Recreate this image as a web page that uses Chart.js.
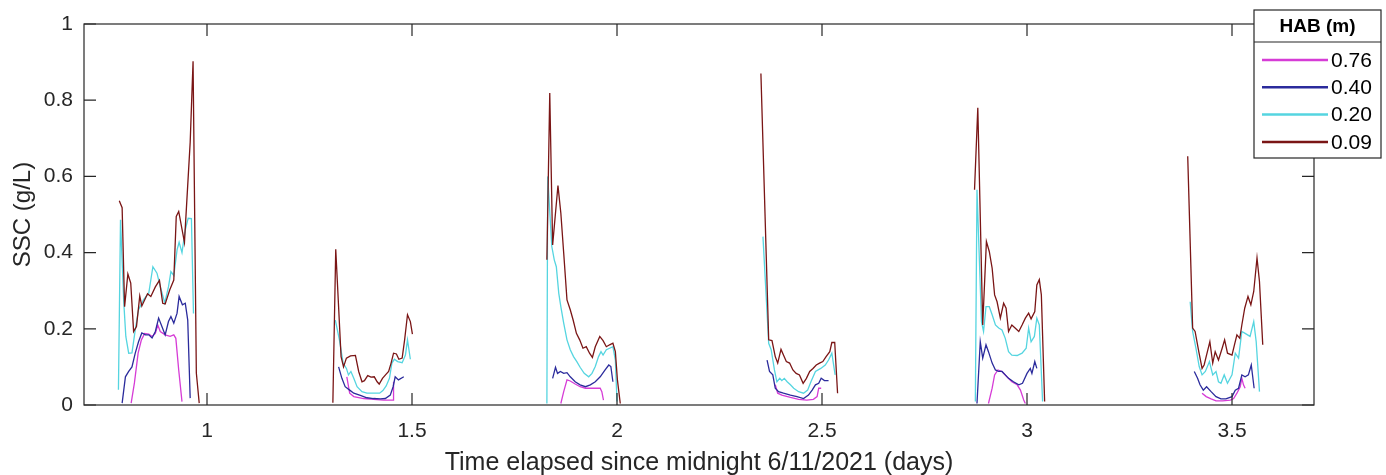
<!DOCTYPE html>
<html lang="en">
<head>
    <meta charset="UTF-8">
    <title>SSC by height above bed</title>
    <script src="https://cdn.jsdelivr.net/npm/chart.js"></script>
    <style>
        html, body { margin: 0; padding: 0; background: #fff; }
        .wrap { width: 1386px; height: 475px; }
    </style>
</head>
<body>
<div class="wrap"><canvas id="sscChart" width="1386" height="475"></canvas></div>
<script>
// legend order = plot order (0.09 ends up on top)
const habLabels = ['0.76', '0.40', '0.20', '0.09'];
const lineColors = ['#d63cd6', '#2b2b9c', '#55d5e0', '#7a1515'];
const xTicks = [1, 1.5, 2, 2.5, 3, 3.5];
const yTicks = [0, 0.2, 0.4, 0.6, 0.8, 1];

// one inner array per burst: time (days) and SSC (g/L)
const t076 = [
    [0.815,0.823,0.832,0.840,0.848,0.858,0.866,0.874,0.880,0.886,0.898,0.910,0.919,0.924,0.931,0.939],
    [1.341,1.348,1.358,1.382,1.406,1.431,1.454,1.455],
    [1.863,1.870,1.878,1.886,1.898,1.910,1.923,1.935,1.947,1.959,1.963,1.967],
    [2.386,2.392,2.402,2.423,2.443,2.463,2.479,2.488,2.492,2.498],
    [2.906,2.915,2.921,2.929,2.939,2.951,2.963,2.976,2.984,2.992,2.996],
    [3.427,3.437,3.449,3.461,3.477,3.496,3.504,3.512,3.520,3.524,3.528,3.532]
];
const ssc076 = [
    [0.005,0.058,0.136,0.171,0.188,0.186,0.18,0.188,0.21,0.193,0.184,0.18,0.184,0.175,0.092,0.009],
    [0.074,0.031,0.022,0.017,0.015,0.013,0.013,0.061],
    [0.004,0.035,0.066,0.063,0.055,0.048,0.044,0.044,0.044,0.044,0.035,0.013],
    [0.053,0.031,0.026,0.02,0.015,0.013,0.015,0.022,0.044,0.044],
    [0.004,0.044,0.079,0.092,0.088,0.074,0.061,0.053,0.039,0.013,0.004],
    [0.031,0.022,0.016,0.011,0.011,0.013,0.017,0.031,0.048,0.07,0.053,0.044]
];

const t040 = [
    [0.793,0.801,0.809,0.817,0.825,0.833,0.841,0.850,0.858,0.866,0.874,0.882,0.890,0.898,0.906,0.912,0.919,0.927,0.932,0.940,0.947,0.953,0.959],
    [1.321,1.329,1.337,1.348,1.358,1.374,1.390,1.406,1.423,1.435,1.447,1.454,1.459,1.467,1.480],
    [1.843,1.850,1.855,1.862,1.870,1.878,1.886,1.898,1.910,1.923,1.935,1.947,1.959,1.971,1.980,1.985,1.990],
    [2.366,2.372,2.380,2.386,2.394,2.406,2.423,2.439,2.455,2.467,2.476,2.484,2.492,2.498,2.506,2.516],
    [2.878,2.886,2.892,2.900,2.906,2.915,2.923,2.931,2.939,2.947,2.955,2.967,2.980,2.989,3.000,3.008,3.012,3.019,3.024],
    [3.408,3.416,3.422,3.430,3.438,3.449,3.461,3.473,3.485,3.500,3.508,3.516,3.524,3.532,3.540,3.547,3.554]
];
const ssc040 = [
    [0.005,0.074,0.088,0.1,0.136,0.166,0.189,0.184,0.184,0.176,0.193,0.228,0.206,0.184,0.219,0.232,0.215,0.241,0.285,0.263,0.267,0.223,0.018],
    [0.10,0.07,0.048,0.039,0.031,0.025,0.019,0.017,0.016,0.017,0.026,0.048,0.074,0.066,0.074],
    [0.07,0.099,0.083,0.088,0.083,0.085,0.074,0.061,0.053,0.048,0.053,0.061,0.074,0.092,0.105,0.101,0.061],
    [0.118,0.088,0.079,0.044,0.035,0.031,0.026,0.022,0.017,0.026,0.039,0.053,0.057,0.07,0.064,0.064],
    [0.004,0.166,0.123,0.158,0.14,0.11,0.092,0.088,0.088,0.079,0.07,0.061,0.053,0.057,0.083,0.096,0.083,0.114,0.096],
    [0.088,0.07,0.053,0.039,0.048,0.035,0.022,0.016,0.016,0.022,0.039,0.044,0.079,0.074,0.079,0.105,0.044]
];

const t020 = [
    [0.784,0.789,0.797,0.802,0.809,0.817,0.825,0.833,0.845,0.858,0.868,0.878,0.886,0.897,0.906,0.912,0.919,0.927,0.932,0.939,0.947,0.954,0.962,0.967],
    [1.313,1.323,1.332,1.340,1.345,1.351,1.358,1.366,1.378,1.390,1.406,1.421,1.429,1.437,1.445,1.451,1.457,1.465,1.476,1.484,1.489,1.496],
    [1.829,1.831,1.841,1.847,1.852,1.858,1.863,1.870,1.878,1.886,1.894,1.902,1.910,1.920,1.931,1.939,1.947,1.955,1.961,1.966,1.974,1.982,1.990,1.996,2.000],
    [2.356,2.370,2.376,2.384,2.390,2.397,2.402,2.408,2.415,2.423,2.431,2.443,2.455,2.465,2.473,2.484,2.497,2.508,2.516,2.524,2.532],
    [2.874,2.878,2.889,2.894,2.900,2.908,2.915,2.923,2.931,2.939,2.947,2.955,2.963,2.976,2.988,2.998,3.004,3.010,3.018,3.024,3.030,3.038],
    [3.398,3.404,3.412,3.420,3.427,3.435,3.445,3.453,3.461,3.467,3.473,3.481,3.489,3.500,3.508,3.516,3.524,3.532,3.544,3.553,3.559,3.567]
];
const ssc020 = [
    [0.04,0.486,0.27,0.18,0.136,0.137,0.197,0.25,0.276,0.294,0.363,0.346,0.311,0.268,0.31,0.35,0.34,0.407,0.427,0.40,0.46,0.49,0.489,0.24],
    [0.223,0.171,0.11,0.096,0.079,0.088,0.07,0.048,0.035,0.031,0.031,0.031,0.038,0.05,0.07,0.11,0.12,0.114,0.111,0.131,0.171,0.12],
    [0.004,0.6,0.416,0.381,0.363,0.293,0.258,0.215,0.171,0.145,0.127,0.114,0.099,0.083,0.074,0.083,0.101,0.127,0.14,0.131,0.145,0.149,0.153,0.118,0.009],
    [0.442,0.162,0.145,0.092,0.061,0.07,0.064,0.07,0.061,0.053,0.044,0.035,0.031,0.039,0.061,0.088,0.096,0.105,0.118,0.136,0.079],
    [0.009,0.565,0.219,0.193,0.258,0.258,0.237,0.21,0.202,0.197,0.175,0.14,0.131,0.13,0.136,0.149,0.202,0.166,0.18,0.228,0.21,0.009],
    [0.271,0.193,0.149,0.101,0.079,0.088,0.114,0.079,0.088,0.061,0.057,0.079,0.057,0.079,0.136,0.123,0.193,0.188,0.18,0.219,0.166,0.035]
];

const t009 = [
    [0.786,0.793,0.799,0.807,0.814,0.821,0.828,0.836,0.841,0.855,0.863,0.874,0.884,0.892,0.898,0.909,0.919,0.925,0.931,0.945,0.959,0.966,0.974,0.981],
    [1.307,1.314,1.327,1.333,1.340,1.350,1.362,1.370,1.378,1.384,1.392,1.400,1.408,1.415,1.420,1.428,1.437,1.443,1.449,1.455,1.462,1.468,1.476,1.482,1.489,1.496,1.501],
    [1.829,1.836,1.843,1.856,1.863,1.870,1.878,1.886,1.893,1.901,1.909,1.917,1.925,1.933,1.940,1.947,1.958,1.966,1.974,1.982,1.990,1.996,2.001,2.008],
    [2.351,2.370,2.378,2.386,2.392,2.400,2.406,2.413,2.421,2.429,2.437,2.445,2.454,2.462,2.470,2.478,2.486,2.494,2.502,2.510,2.519,2.524,2.531,2.538],
    [2.872,2.880,2.892,2.901,2.908,2.915,2.921,2.927,2.935,2.943,2.949,2.955,2.963,2.971,2.980,2.988,2.996,3.004,3.010,3.019,3.024,3.030,3.035,3.043],
    [3.392,3.404,3.410,3.419,3.427,3.432,3.440,3.446,3.453,3.459,3.467,3.476,3.482,3.489,3.500,3.506,3.512,3.519,3.524,3.531,3.539,3.546,3.553,3.561,3.567,3.575]
];
const ssc009 = [
    [0.536,0.518,0.258,0.344,0.32,0.193,0.206,0.286,0.26,0.292,0.285,0.31,0.327,0.267,0.265,0.302,0.328,0.495,0.508,0.427,0.69,0.902,0.084,0.005],
    [0.006,0.409,0.127,0.10,0.123,0.129,0.13,0.088,0.061,0.064,0.077,0.073,0.074,0.061,0.055,0.07,0.081,0.088,0.11,0.136,0.134,0.12,0.123,0.171,0.237,0.219,0.186],
    [0.381,0.819,0.42,0.576,0.504,0.399,0.276,0.25,0.223,0.188,0.171,0.149,0.153,0.136,0.125,0.153,0.18,0.169,0.153,0.158,0.162,0.14,0.066,0.004],
    [0.87,0.171,0.169,0.127,0.11,0.146,0.131,0.114,0.11,0.092,0.083,0.079,0.057,0.07,0.088,0.096,0.105,0.11,0.114,0.127,0.14,0.164,0.164,0.031],
    [0.565,0.78,0.21,0.429,0.403,0.359,0.289,0.271,0.228,0.267,0.254,0.193,0.21,0.202,0.193,0.21,0.228,0.241,0.226,0.245,0.315,0.329,0.289,0.009],
    [0.653,0.202,0.193,0.14,0.096,0.105,0.14,0.166,0.11,0.14,0.118,0.149,0.171,0.136,0.131,0.158,0.184,0.175,0.21,0.254,0.285,0.263,0.298,0.386,0.324,0.158]
];

// join bursts into one point list, a null between them breaks the line
function toPoints(times, values) {
    const pts = [];
    times.forEach((tb, b) => {
        tb.forEach((t, i) => pts.push({ x: t, y: values[b][i] }));
        pts.push({ x: tb[tb.length - 1] + 0.01, y: null });
    });
    return pts;
}

const seriesT = [t076, t040, t020, t009];
const seriesV = [ssc076, ssc040, ssc020, ssc009];

const FONT = '"Liberation Sans", Arial, sans-serif';
const AXIS = '#262626';

// MATLAB style box with inward ticks on all four sides
const boxFrame = {
    id: 'boxFrame',
    afterDatasetsDraw(chart) {
        const { ctx, chartArea: a, scales: { x, y } } = chart;
        const len = 12;
        ctx.save();
        ctx.strokeStyle = AXIS;
        ctx.lineWidth = 1.2;
        ctx.strokeRect(a.left, a.top, a.right - a.left, a.bottom - a.top);
        ctx.beginPath();
        x.ticks.forEach(tk => {
            const px = x.getPixelForValue(tk.value);
            ctx.moveTo(px, a.bottom); ctx.lineTo(px, a.bottom - len);
            ctx.moveTo(px, a.top); ctx.lineTo(px, a.top + len);
        });
        y.ticks.forEach(tk => {
            const py = y.getPixelForValue(tk.value);
            ctx.moveTo(a.left, py); ctx.lineTo(a.left + len, py);
            ctx.moveTo(a.right, py); ctx.lineTo(a.right - len, py);
        });
        ctx.stroke();
        ctx.restore();
    }
};

// boxed legend with title row, top right corner
const habLegend = {
    id: 'habLegend',
    afterDraw(chart) {
        const ctx = chart.ctx;
        const x0 = 1254, y0 = 10, w = 127, h = 148, head = 32, rowH = 27.3;
        ctx.save();
        ctx.fillStyle = '#fff';
        ctx.fillRect(x0, y0, w, h);
        ctx.strokeStyle = AXIS;
        ctx.lineWidth = 1.2;
        ctx.strokeRect(x0, y0, w, h);
        ctx.beginPath();
        ctx.moveTo(x0, y0 + head); ctx.lineTo(x0 + w, y0 + head);
        ctx.stroke();
        ctx.fillStyle = '#000';
        ctx.textBaseline = 'middle';
        ctx.textAlign = 'center';
        ctx.font = 'bold 19px ' + FONT;
        ctx.fillText('HAB (m)', x0 + w / 2, y0 + head / 2 + 1);
        ctx.textAlign = 'left';
        ctx.font = '21px ' + FONT;
        chart.data.datasets.forEach((ds, i) => {
            const ly = y0 + head + 18 + i * rowH;
            ctx.strokeStyle = ds.borderColor;
            ctx.lineWidth = 2.5;
            ctx.beginPath();
            ctx.moveTo(x0 + 8, ly); ctx.lineTo(x0 + 74, ly);
            ctx.stroke();
            ctx.fillText(ds.label, x0 + 77, ly + 1);
        });
        ctx.restore();
    }
};

const ctx = document.getElementById('sscChart').getContext('2d');
const sscChart = new Chart(ctx, {
    type: 'line',
    data: {
        datasets: habLabels.map((lab, i) => ({
            label: lab,
            data: toPoints(seriesT[i], seriesV[i]),
            borderColor: lineColors[i],
            backgroundColor: lineColors[i],
            borderWidth: 1.3,
            pointRadius: 0,
            tension: 0,
            fill: false,
            spanGaps: false,
            order: habLabels.length - i
        }))
    },
    options: {
        responsive: false,
        animation: false,
        layout: { padding: { top: 24, right: 72, left: 0, bottom: 0 } },
        plugins: {
            legend: { display: false },
            tooltip: { enabled: false }
        },
        scales: {
            x: {
                type: 'linear',
                min: 0.7,
                max: 3.7,
                afterBuildTicks: s => { s.ticks = xTicks.map(v => ({ value: v })); },
                afterFit: s => { s.height = 70; },
                grid: { display: false, drawTicks: false },
                border: { display: false },
                ticks: {
                    color: AXIS, padding: 14, maxRotation: 0,
                    font: { family: FONT, size: 21 },
                    callback: v => String(v)
                },
                title: {
                    display: true,
                    text: 'Time elapsed since midnight 6/11/2021 (days)',
                    color: AXIS,
                    font: { family: FONT, size: 25 },
                    padding: { top: 0, bottom: -3 }
                }
            },
            y: {
                type: 'linear',
                min: 0,
                max: 1,
                afterBuildTicks: s => { s.ticks = yTicks.map(v => ({ value: v })); },
                afterFit: s => { s.width = 84; },
                grid: { display: false, drawTicks: false },
                border: { display: false },
                ticks: {
                    color: AXIS, padding: 11,
                    font: { family: FONT, size: 21 },
                    callback: v => String(v)
                },
                title: {
                    display: true,
                    text: 'SSC (g/L)',
                    color: AXIS,
                    font: { family: FONT, size: 24 },
                    padding: { top: 9, bottom: 0 }
                }
            }
        }
    },
    plugins: [boxFrame, habLegend]
});
</script>
</body>
</html>
